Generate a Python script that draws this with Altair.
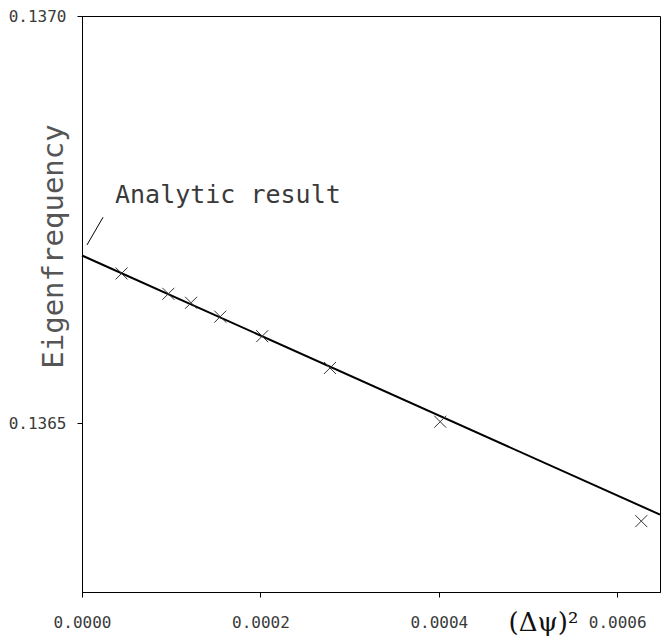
import altair as alt
import pandas as pd

# Measured data points (crosses)
dpsi2 = [0.0000444, 0.0000968, 0.0001223, 0.000155, 0.000202, 0.000278, 0.0004016, 0.000627]
freq = [0.136684, 0.136659, 0.136648, 0.136631, 0.136607, 0.136568, 0.136502, 0.136380]

# Extrapolation line
line_x = [0.0, 0.000648]
line_y = [0.136706, 0.136388]

# Annotation
ann_x = [0.000037]
ann_y = [0.13677]
ann_text = ["Analytic result"]
leader_x = [0.0000236, 0.0000056]
leader_y = [0.136753, 0.136719]

x_ticks = [0.0, 0.0002, 0.0004, 0.0006]
y_ticks = [0.1365, 0.1370]

XDOM = [0, 0.000648]
YDOM = [0.136293, 0.1370]

pts = pd.DataFrame({"x": dpsi2, "y": freq})
ln = pd.DataFrame({"x": line_x, "y": line_y})
ann = pd.DataFrame({"x": ann_x, "y": ann_y, "t": ann_text})
ld = pd.DataFrame({"x": leader_x, "y": leader_y})

MONO = "DejaVu Sans Mono"
TXT = "#3a3a3a"

xaxis = alt.Axis(
    values=x_ticks, format=".4f", grid=False,
    labelFont=MONO, labelFontSize=16, labelColor=TXT, labelPadding=17,
    labelFlush=False, labelOverlap=False, labelBound=False,
    tickSize=5, tickColor="#000", domainColor="#000",
    title="(Δψ)²", titleFont="DejaVu Serif", titleFontSize=26,
    titleFontWeight="normal", titleColor="#111",
    titleX=543 - 82, titleY=30, titleAlign="center", titleBaseline="middle",
)
yaxis = alt.Axis(
    values=y_ticks, format=".4f", grid=False,
    labelFont=MONO, labelFontSize=16, labelColor=TXT, labelPadding=11,
    labelFlush=False, labelOverlap=False, labelBound=False,
    tickSize=5, tickColor="#000", domainColor="#000",
    title="Eigenfrequency", titleFont=MONO, titleFontSize=29,
    titleFontWeight="normal", titleColor="#555",
    titleAngle=270, titleX=-20, titleY=230, titleAlign="center",
    titleBaseline="alphabetic",
)

xs = alt.Scale(domain=XDOM, nice=False, zero=False)
ys = alt.Scale(domain=YDOM, nice=False, zero=False)

line = alt.Chart(ln).mark_line(color="#000", strokeWidth=2).encode(
    x=alt.X("x:Q", scale=xs, axis=xaxis),
    y=alt.Y("y:Q", scale=ys, axis=yaxis),
)

points = alt.Chart(pts).mark_point(
    shape="M-1,-1L1,1M-1,1L1,-1", size=144, filled=False,
    strokeWidth=1, color="#333", opacity=1,
).encode(x=alt.X("x:Q", scale=xs), y=alt.Y("y:Q", scale=ys))

leader = alt.Chart(ld).mark_line(color="#000", strokeWidth=1).encode(
    x=alt.X("x:Q", scale=xs), y=alt.Y("y:Q", scale=ys)
)

text = alt.Chart(ann).mark_text(
    align="left", baseline="alphabetic", font=MONO, fontSize=25, color=TXT
).encode(x=alt.X("x:Q", scale=xs), y=alt.Y("y:Q", scale=ys), text="t:N")

chart = alt.layer(line, points, leader, text).properties(
    width=578, height=576,
    autosize="none",
    padding={"left": 82, "top": 16, "right": 3, "bottom": 49},
    background="white",
).configure_view(stroke="#000", strokeWidth=1)

chart.save("out.html", embed_options={"renderer": "svg", "actions": False})
